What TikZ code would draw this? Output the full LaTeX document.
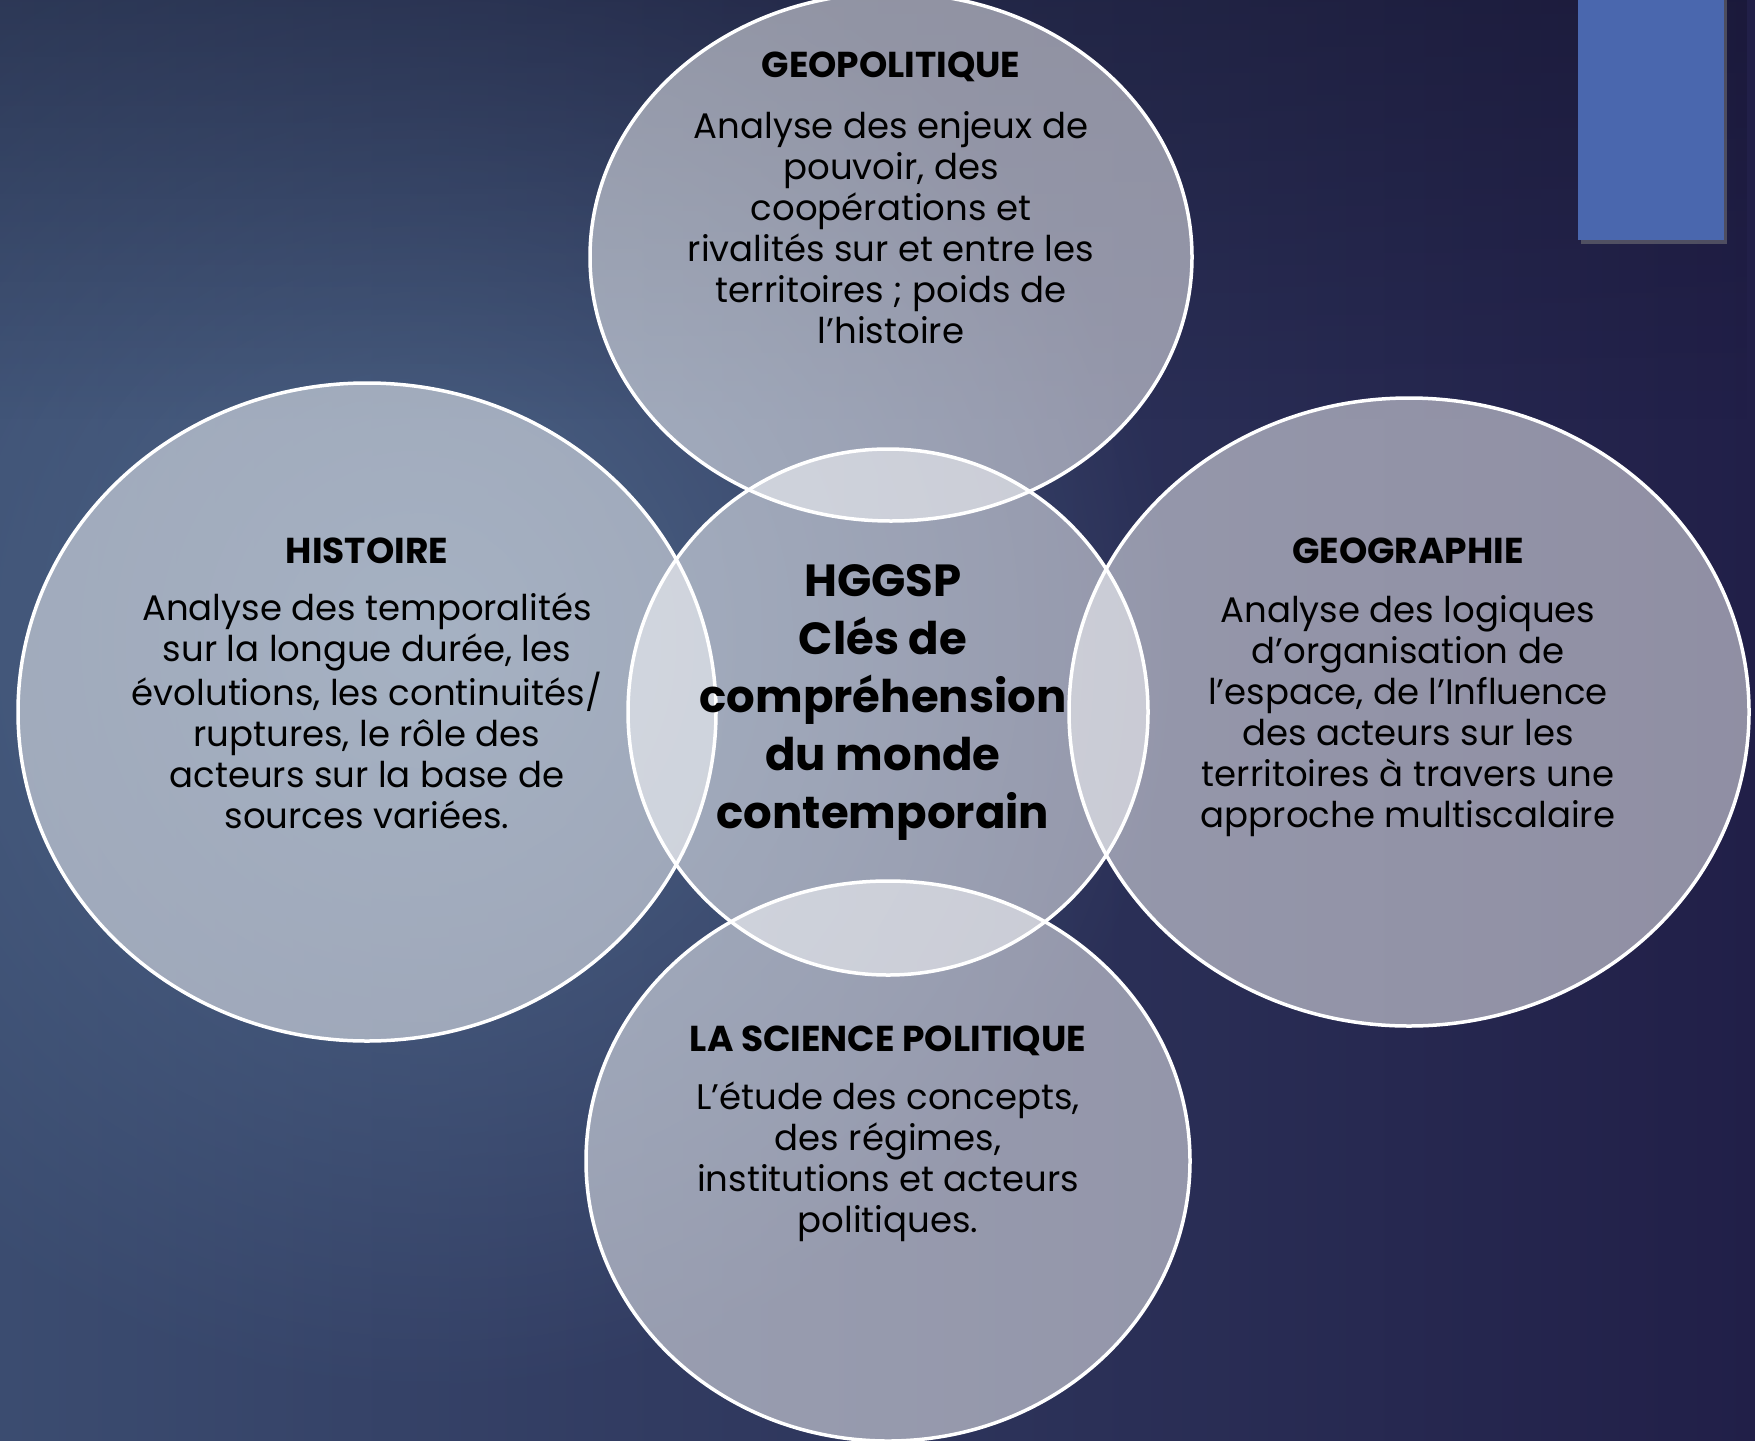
\documentclass[tikz,border=0pt]{standalone}
\usepackage{fontspec}
\setmainfont{Poppins}
\usetikzlibrary{shapes.geometric,fadings,shadows}
\definecolor{bgL}{HTML}{3B4C70}
\definecolor{bgR}{HTML}{211F48}
\definecolor{glow}{HTML}{4D6587}
\definecolor{rectblue}{HTML}{4A67AE}
\tikzfading[name=topdark, top color=transparent!0, bottom color=transparent!100]
\tikzfading[name=glowfade, inner color=transparent!0, outer color=transparent!100]
\tikzset{
  circ/.style={ellipse, draw=white, line width=3.5pt, fill=white, fill opacity=0.5, inner sep=0pt, outer sep=0pt},
  head/.style={font=\fontsize{36}{40}\selectfont\bfseries, text=black, align=center, inner sep=0pt},
  body/.style={font=\fontsize{35.5}{41}\selectfont, text=black, align=center, inner sep=0pt},
  core/.style={font=\fontsize{45}{58}\selectfont\bfseries, text=black, align=center, inner sep=0pt}
}
\begin{document}
\begin{tikzpicture}[x=1pt,y=-1pt]
\useasboundingbox (0,0) rectangle (1755,1440);
% background
\shade[left color=bgL, right color=bgR] (0,0) rectangle (1755,1440);
\fill[glow, path fading=glowfade] (420,640) circle (760);
\fill[black!60!bgR, opacity=0.3, path fading=topdark] (0,0) rectangle (1755,420);
% blue bar
\fill[rectblue, drop shadow={shadow xshift=3pt, shadow yshift=-4pt, opacity=0.5}] (1578,-5) rectangle (1724,240);
% circles
\node[circ, minimum width=698pt, minimum height=658pt] (hist) at (367,712) {};
\node[circ, minimum width=680pt, minimum height=628pt] (geog) at (1409,712) {};
\node[circ, minimum width=602pt, minimum height=528pt] (geop) at (891,257) {};
\node[circ, minimum width=604pt, minimum height=560pt] (scpo) at (888,1161) {};
\node[circ, minimum width=520pt, minimum height=526pt] (hggsp) at (888,712) {};
% texts
\node[head] (geopH) at (891,67) {GEOPOLITIQUE};
\node[body] (geopB) at (891,228) {Analyse des enjeux de\\pouvoir, des\\coopérations et\\rivalités sur et entre les\\territoires ; poids de\\l’histoire};
\node[head] (histH) at (367,551) {HISTOIRE};
\node[body] (histB) at (367,711) {Analyse des temporalités\\sur la longue durée, les\\évolutions, les continuités/\\ruptures, le rôle des\\acteurs sur la base de\\sources variées.};
\node[head] (geogH) at (1408,551) {GEOGRAPHIE};
\node[body] (geogB) at (1408,716) {Analyse des logiques\\d’organisation de\\l’espace, de l’Influence\\des acteurs sur les\\territoires à travers une\\approche multiscalaire};
\node[head] (scpoH) at (888,1041) {LA SCIENCE POLITIQUE};
\node[body] (scpoB) at (888,1162) {L’étude des concepts,\\des régimes,\\institutions et acteurs\\politiques.};
\node[core] (coreT) at (883,702) {HGGSP\\Clés de\\compréhension\\du monde\\contemporain};
\end{tikzpicture}
\end{document}
